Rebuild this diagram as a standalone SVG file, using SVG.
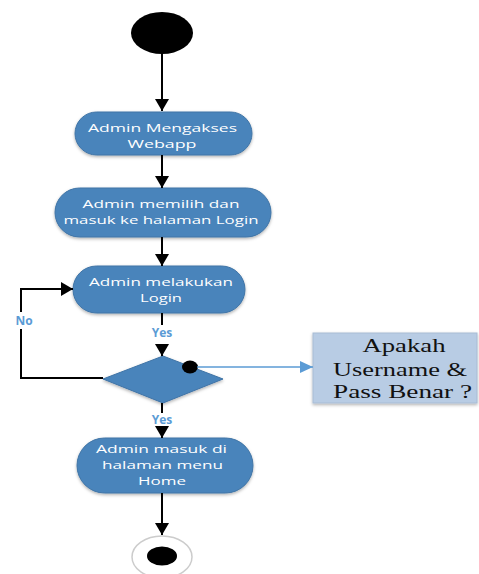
<svg xmlns="http://www.w3.org/2000/svg" width="479" height="574" viewBox="0 0 479 574">
<defs>
<marker id="ab" viewBox="0 0 12 14" refX="12" refY="7" markerWidth="12" markerHeight="14" markerUnits="userSpaceOnUse" orient="auto"><path d="M0,0 L12,7 L0,14 z" fill="#000"/></marker>
<marker id="abl" viewBox="0 0 13 12" refX="13" refY="6" markerWidth="13" markerHeight="12" markerUnits="userSpaceOnUse" orient="auto"><path d="M0,0 L13,6 L0,12 z" fill="#5b9bd5"/></marker>
<filter id="sh" x="-10%" y="-10%" width="120%" height="130%"><feDropShadow dx="0" dy="1.5" stdDeviation="1.5" flood-color="#000" flood-opacity="0.3"/></filter>
</defs>
<style>
.act{fill:#4a84bb;stroke:#3f74a6;stroke-width:1;filter:url(#sh)}
.t{font-family:"Open Sans","Noto Sans",sans-serif;font-size:11.5px;fill:#fff;text-anchor:middle}
.lbl{font-family:"Open Sans","Noto Sans",sans-serif;font-size:12px;font-weight:bold;fill:#5b9bd5;text-anchor:middle}
.c{stroke:#000;stroke-width:2;fill:none}
.s{font-family:"Liberation Serif","Times New Roman",serif;font-size:19px;fill:#111;text-anchor:middle}
</style>
<g id="start"><ellipse cx="162" cy="33" rx="31" ry="21" fill="#000"/></g>
<g id="n1"><rect class="act" x="75" y="112" width="177" height="43" rx="21.5"/>
<text class="t" x="162.5" y="131.5" textLength="149" lengthAdjust="spacingAndGlyphs">Admin Mengakses</text>
<text class="t" x="162" y="147.5" textLength="69" lengthAdjust="spacingAndGlyphs">Webapp</text></g>
<g id="n2"><rect class="act" x="55" y="188" width="216" height="49" rx="24.5"/>
<text class="t" x="161" y="208" textLength="157" lengthAdjust="spacingAndGlyphs">Admin memilih dan</text>
<text class="t" x="161" y="224" textLength="195" lengthAdjust="spacingAndGlyphs">masuk ke halaman Login</text></g>
<g id="n3"><rect class="act" x="73" y="266" width="172" height="47" rx="23.5"/>
<text class="t" x="161" y="285.5" textLength="144" lengthAdjust="spacingAndGlyphs">Admin melakukan</text>
<text class="t" x="161" y="301.5" textLength="42" lengthAdjust="spacingAndGlyphs">Login</text></g>
<g id="dec"><path class="act" d="M163,356 L223,379 L163,403 L103,379 z"/>
<ellipse cx="190" cy="367" rx="8" ry="6.5" fill="#000"/></g>
<g id="note"><rect x="313" y="333" width="164" height="70" fill="#b8cce4" stroke="#a8bcd4" stroke-width="1" filter="url(#sh)"/>
<text class="s" x="404" y="352" textLength="83" lengthAdjust="spacingAndGlyphs">Apakah</text>
<text class="s" x="400" y="376" textLength="134" lengthAdjust="spacingAndGlyphs">Username &amp;</text>
<text class="s" x="402.5" y="398" textLength="139" lengthAdjust="spacingAndGlyphs">Pass Benar ?</text></g>
<g id="n4"><rect class="act" x="77" y="438" width="176" height="55" rx="27.5"/>
<text class="t" x="161.5" y="453" textLength="131" lengthAdjust="spacingAndGlyphs">Admin masuk di</text>
<text class="t" x="162.5" y="469" textLength="121" lengthAdjust="spacingAndGlyphs">halaman menu</text>
<text class="t" x="162" y="485" textLength="48" lengthAdjust="spacingAndGlyphs">Home</text></g>
<g id="end"><ellipse cx="162" cy="557" rx="30" ry="21" fill="#fff" stroke="#ccc" stroke-width="1.5"/>
<ellipse cx="162" cy="556" rx="15" ry="9.5" fill="#000"/></g>
<g id="connectors">
<line class="c" x1="162" y1="54" x2="162" y2="111" marker-end="url(#ab)"/>
<line class="c" x1="162" y1="155" x2="162" y2="188" marker-end="url(#ab)"/>
<line class="c" x1="162" y1="237" x2="162" y2="266" marker-end="url(#ab)"/>
<line class="c" x1="162" y1="313" x2="162" y2="325"/>
<line class="c" x1="162" y1="344" x2="162" y2="356" marker-end="url(#ab)"/>
<line class="c" x1="162" y1="403" x2="162" y2="413"/>
<line class="c" x1="162" y1="426" x2="162" y2="438" marker-end="url(#ab)"/>
<line class="c" x1="162" y1="493" x2="162" y2="535" marker-end="url(#ab)"/>
<polyline class="c" points="103,378 21,378 21,329"/>
<polyline class="c" points="21,312 21,289 73,289" marker-end="url(#ab)"/>
<line x1="197" y1="367" x2="313" y2="367" stroke="#5b9bd5" stroke-width="1.5" marker-end="url(#abl)"/>
<text class="lbl" x="24" y="325">No</text>
<text class="lbl" x="162" y="337">Yes</text>
<text class="lbl" x="162" y="424">Yes</text>
</g>
</svg>
